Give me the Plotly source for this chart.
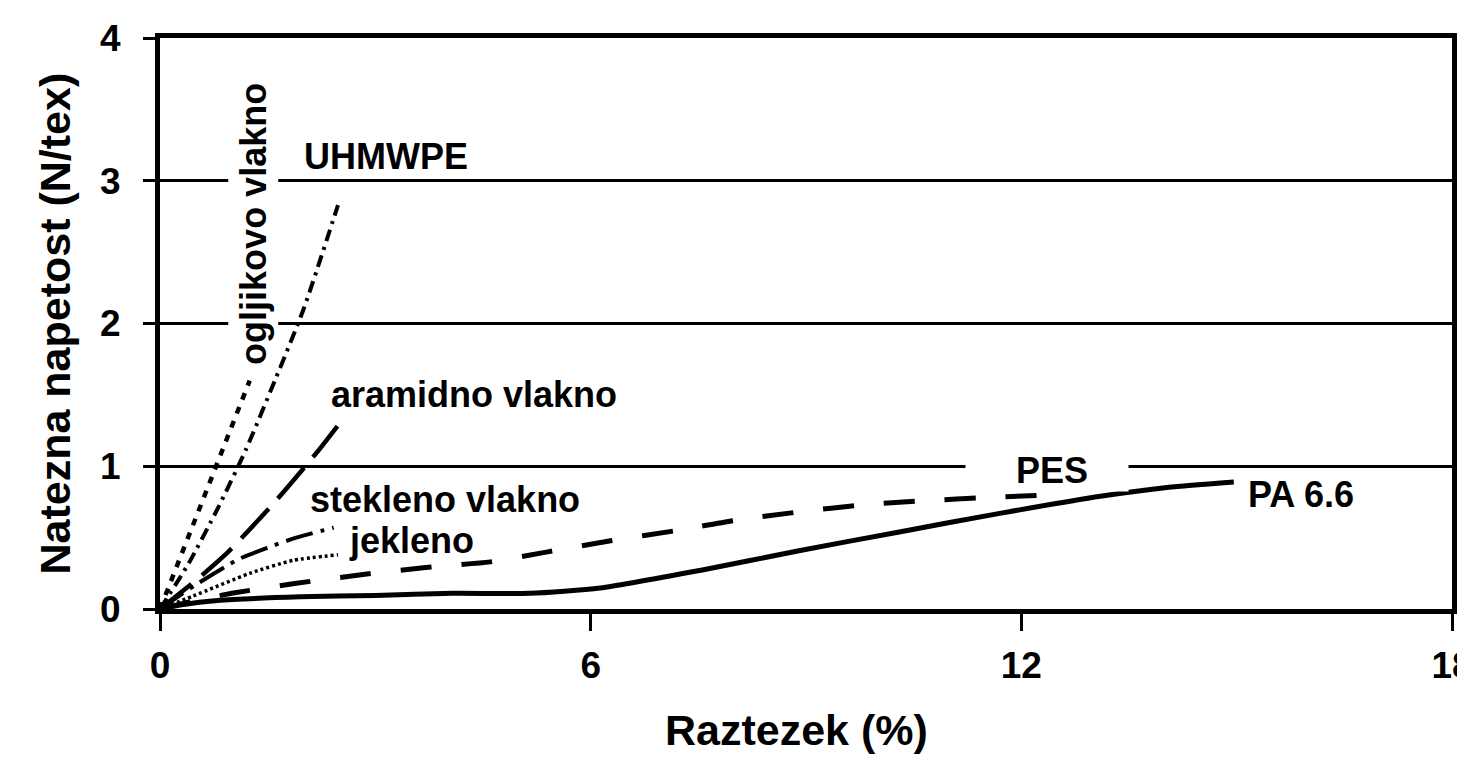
import plotly.graph_objects as go

# ---- data ----
carbon_x = [0, 0.3, 0.79, 1.25]
carbon_y = [0, 0.38, 1.0, 1.6]

uhmwpe_x = [0, 0.4, 0.8, 1.2, 1.6, 2.0, 2.48]
uhmwpe_y = [0, 0.32, 0.7, 1.12, 1.6, 2.1, 2.83]

aramid_x = [0, 0.5, 0.95, 1.6, 2.19, 2.5]
aramid_y = [0, 0.2, 0.4, 0.75, 1.1, 1.3]

glass_x = [0, 0.5, 1.1, 1.5, 1.9, 2.42]
glass_y = [0, 0.17, 0.35, 0.43, 0.5, 0.57]

steel_x = [0, 0.46, 1.25, 1.85, 2.48]
steel_y = [0, 0.09, 0.25, 0.34, 0.38]

pes_x = [0, 0.5, 1.0, 1.9, 2.8, 3.7, 4.6, 5.4, 6.3, 7.2, 8.0, 8.9, 9.8, 10.7, 11.5, 12.4]
pes_y = [0, 0.06, 0.11, 0.18, 0.24, 0.29, 0.33, 0.40, 0.48, 0.55, 0.62, 0.68, 0.73, 0.76, 0.78, 0.80]

pa_x = [0, 0.3, 0.8, 1.95, 3.0, 4.08, 5.15, 6.13, 7.52, 8.92, 10.3, 11.7, 13.1, 14.0, 14.96]
pa_y = [0, 0.03, 0.06, 0.085, 0.095, 0.11, 0.11, 0.147, 0.27, 0.41, 0.54, 0.67, 0.79, 0.85, 0.89]

x_ticks = [0, 6, 12, 18]
y_ticks = [0, 1, 2, 3, 4]

labels = ["ogljikovo vlakno", "UHMWPE", "aramidno vlakno", "stekleno vlakno", "jekleno", "PES", "PA 6.6"]
label_x = [1.30, 3.15, 4.37, 3.97, 3.51, 12.36, 15.9]
label_y = [2.70, 3.17, 1.50, 0.77, 0.48, 0.97, 0.80]

x_title = "Raztezek (%)"
y_title = "Natezna napetost (N/tex)"

FONT = "Liberation Sans, Arial, sans-serif"

# The page body has an 8px margin, so the figure starts at (8, 8) in the window.
FIG_W, FIG_H = 1457, 754
ML, MT, MR, MB = 152, 30, 13, 153
PW = FIG_W - ML - MR
PH = FIG_H - MT - MB

fig = go.Figure()

series = [
    (carbon_x, carbon_y, dict(width=4.5, dash="7px,8px"), "linear"),
    (uhmwpe_x, uhmwpe_y, dict(width=4, dash="12px,6px,3px,6px"), "spline"),
    (aramid_x, aramid_y, dict(width=4.5, dash="40px,14px"), "spline"),
    (glass_x, glass_y, dict(width=4, dash="28px,8px,4px,8px"), "spline"),
    (steel_x, steel_y, dict(width=3.5, dash="3px,3px"), "spline"),
    (pes_x, pes_y, dict(width=5, dash="31px,30px"), "spline"),
    (pa_x, pa_y, dict(width=5), "spline"),
]
for xs, ys, ln, shape in series:
    ln = dict(ln, color="black", shape=shape)
    if shape == "spline":
        ln["smoothing"] = 0.6
    fig.add_trace(go.Scatter(x=xs, y=ys, mode="lines", line=ln, showlegend=False, hoverinfo="skip"))

annotations = []
for t, lx, ly in zip(labels, label_x, label_y):
    a = dict(x=lx, y=ly, xref="x", yref="y", text=t, showarrow=False,
             font=dict(family=FONT, size=36, color="black", weight="bold"),
             xanchor="center", yanchor="middle")
    if t == "ogljikovo vlakno":
        a["textangle"] = -90
        a["bgcolor"] = "white"
        a["borderpad"] = 4
    if t == "PES":
        a["text"] = "\u00a0" * 5 + t + "\u00a0" * 4
        a["bgcolor"] = "white"
        a["borderpad"] = 0
    annotations.append(a)

# axis titles, positioned in window pixels (minus the 8px page margin)
annotations.append(dict(x=(796 - 8 - ML) / PW, y=(609 - 730) / PH, xref="paper", yref="paper",
                        text=x_title, showarrow=False, xanchor="center", yanchor="middle",
                        font=dict(family=FONT, size=43, color="black", weight="bold")))
annotations.append(dict(x=(54 - 8 - ML) / PW, y=0.5, xref="paper", yref="paper",
                        text=y_title, showarrow=False, textangle=-90, xanchor="center", yanchor="middle",
                        font=dict(family=FONT, size=43, color="black", weight="bold")))

fig.update_layout(
    width=FIG_W, height=FIG_H, autosize=False,
    margin=dict(l=ML, r=MR, t=MT, b=MB, pad=0, autoexpand=False),
    paper_bgcolor="white",
    plot_bgcolor="white",
    annotations=annotations,
)
fig.update_xaxes(range=[0, 18], tickvals=x_ticks, ticks="outside", ticklen=17, tickwidth=3, tickcolor="black",
                 showline=True, linewidth=5, linecolor="black", mirror=True, showgrid=False, zeroline=False,
                 ticklabeloverflow="allow", automargin=False,
                 tickfont=dict(family=FONT, size=37, color="black", weight="bold"), ticklabelstandoff=3)
fig.update_yaxes(range=[0, 4], tickvals=y_ticks, ticks="outside", ticklen=12, tickwidth=3, tickcolor="black",
                 showline=True, linewidth=5, linecolor="black", mirror=True, showgrid=True,
                 gridcolor="black", gridwidth=2.5, zeroline=False, automargin=False,
                 tickfont=dict(family=FONT, size=37, color="black", weight="bold"), ticklabelstandoff=15)

fig.write_html("out.html")
